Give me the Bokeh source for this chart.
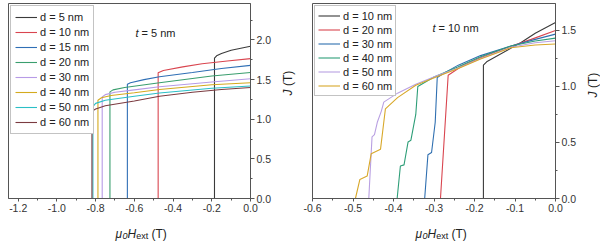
import math
from bokeh.plotting import figure
from bokeh.layouts import row, column
from bokeh.models import (FixedTicker, PrintfTickFormatter, Legend, LegendItem,
                          Label, Range1d)
from bokeh.embed import file_html
from bokeh.resources import INLINE

FONT = "Liberation Sans"

# ---------------- data: left panel (t = 5 nm) ----------------
left_labels = ["d = 5 nm", "d = 10 nm", "d = 15 nm", "d = 20 nm",
               "d = 30 nm", "d = 40 nm", "d = 50 nm", "d = 60 nm"]
left_colors = ["#3a3a3a", "#d9454f", "#2f6fb5", "#3a9e6e",
               "#b79be6", "#d4aa1e", "#2bbfc6", "#7b3b40"]

L_d5_H = [-0.186, -0.186, -0.175, -0.15, -0.10, -0.05, 0.0]
L_d5_J = [0.0, 1.77, 1.80, 1.83, 1.87, 1.895, 1.92]
L_d10_H = [-0.477, -0.477, -0.45, -0.35, -0.25, -0.12, 0.0]
L_d10_J = [0.0, 1.585, 1.615, 1.66, 1.70, 1.735, 1.765]
L_d15_H = [-0.636, -0.636, -0.62, -0.55, -0.47, -0.30, -0.15, 0.0]
L_d15_J = [0.0, 1.44, 1.46, 1.50, 1.535, 1.59, 1.64, 1.68]
L_d20_H = [-0.726, -0.726, -0.71, -0.65, -0.47, -0.20, 0.0]
L_d20_J = [0.0, 1.345, 1.37, 1.40, 1.46, 1.545, 1.59]
L_d30_H = [-0.766, -0.766, -0.75, -0.70, -0.60, -0.47, -0.20, 0.0]
L_d30_J = [0.0, 1.28, 1.31, 1.34, 1.37, 1.41, 1.47, 1.51]
L_d40_H = [-0.788, -0.788, -0.77, -0.72, -0.60, -0.47, -0.20, 0.0]
L_d40_J = [0.0, 1.24, 1.27, 1.30, 1.335, 1.375, 1.435, 1.46]
L_d50_H = [-0.814, -0.814, -0.80, -0.75, -0.60, -0.47, -0.20, 0.0]
L_d50_J = [0.0, 1.16, 1.20, 1.24, 1.29, 1.33, 1.39, 1.42]
L_d60_H = [-0.819, -0.819, -0.80, -0.75, -0.60, -0.47, -0.30, -0.15, 0.0]
L_d60_J = [0.0, 1.10, 1.13, 1.17, 1.23, 1.29, 1.34, 1.375, 1.40]

left_H = [L_d5_H, L_d10_H, L_d15_H, L_d20_H, L_d30_H, L_d40_H, L_d50_H, L_d60_H]
left_J = [L_d5_J, L_d10_J, L_d15_J, L_d20_J, L_d30_J, L_d40_J, L_d50_J, L_d60_J]

left_xticks = [-1.2, -1.0, -0.8, -0.6, -0.4, -0.2, 0.0]
left_xminor = [-1.1, -0.9, -0.7, -0.5, -0.3, -0.1]
left_yticks = [0.0, 0.5, 1.0, 1.5, 2.0]
left_yminor = [0.25, 0.75, 1.25, 1.75, 2.25]

# ---------------- data: right panel (t = 10 nm) ----------------
right_labels = ["d = 10 nm", "d = 20 nm", "d = 30 nm",
                "d = 40 nm", "d = 50 nm", "d = 60 nm"]
right_colors = ["#3a3a3a", "#d9454f", "#2f6fb0", "#2e9e78", "#b9a0e2", "#d8a82a"]

R_d10_H = [-0.178, -0.178, -0.17, -0.086, -0.05, 0.0]
R_d10_J = [0.0, 1.19, 1.22, 1.39, 1.475, 1.57]
R_d20_H = [-0.284, -0.265, -0.23, -0.185, -0.12, -0.06, 0.0]
R_d20_J = [0.0, 1.10, 1.185, 1.255, 1.345, 1.42, 1.50]
R_d30_H = [-0.323, -0.315, -0.306, -0.297, -0.292, -0.27, -0.24, -0.185, -0.11, -0.05, 0.0]
R_d30_J = [0.0, 0.39, 0.41, 0.68, 1.08, 1.13, 1.19, 1.275, 1.36, 1.42, 1.467]
R_d40_H = [-0.391, -0.383, -0.374, -0.364, -0.357, -0.345, -0.340, -0.30, -0.24,
           -0.185, -0.11, -0.05, 0.0]
R_d40_J = [0.0, 0.29, 0.30, 0.505, 0.52, 0.75, 1.00, 1.085, 1.175,
           1.265, 1.36, 1.405, 1.431]
R_d50_H = [-0.461, -0.453, -0.447, -0.440, -0.43, -0.424, -0.39, -0.345, -0.29,
           -0.24, -0.185, -0.11, -0.05, 0.0]
R_d50_J = [0.0, 0.55, 0.57, 0.68, 0.78, 0.86, 0.94, 1.02, 1.10,
           1.165, 1.25, 1.35, 1.39, 1.408]
R_d60_H = [-0.494, -0.483, -0.465, -0.455, -0.432, -0.424, -0.42, -0.39, -0.345,
           -0.29, -0.24, -0.185, -0.11, -0.05, 0.0]
R_d60_J = [0.0, 0.17, 0.20, 0.40, 0.44, 0.68, 0.80, 0.90, 1.01,
           1.09, 1.16, 1.245, 1.345, 1.37, 1.378]

right_H = [R_d10_H, R_d20_H, R_d30_H, R_d40_H, R_d50_H, R_d60_H]
right_J = [R_d10_J, R_d20_J, R_d30_J, R_d40_J, R_d50_J, R_d60_J]

right_xticks = [-0.6, -0.5, -0.4, -0.3, -0.2, -0.1, 0.0]
right_xminor = [-0.55, -0.45, -0.35, -0.25, -0.15, -0.05]
right_yticks = [0.0, 0.5, 1.0, 1.5]
right_yminor = [0.25, 0.75, 1.25]

MAIN_H = 218   # height of the two chart figures
LAB_H = 24     # height of the strip holding the x-axis titles


def add_text(p, x, y, text, size="12px", style="normal", angle=0.0,
             baseline="alphabetic"):
    p.add_layout(Label(x=x, y=y, x_units="screen", y_units="screen", text=text,
                       text_font=FONT, text_font_size=size, text_font_style=style,
                       text_color="#222222", angle=angle, text_align="left",
                       text_baseline=baseline))


def make_panel(width, mbl, mbr, xr, yr, xt, xm, yt, ym, Hs, Js, labels, colors,
               row_h, pad):
    p = figure(width=width, height=MAIN_H, x_range=Range1d(*xr), y_range=Range1d(*yr),
               output_backend="svg", toolbar_location=None, y_axis_location="right",
               min_border_left=mbl, min_border_right=mbr, min_border_top=3,
               min_border_bottom=20)
    p.grid.visible = False
    p.outline_line_color = "#555555"
    p.background_fill_color = "white"
    p.border_fill_color = "white"

    p.xaxis.ticker = FixedTicker(ticks=xt, minor_ticks=xm)
    p.yaxis.ticker = FixedTicker(ticks=yt, minor_ticks=ym)
    for ax in p.axis:
        ax.formatter = PrintfTickFormatter(format="%.1f")
        ax.axis_line_color = "#555555"
        ax.major_tick_line_color = "#555555"
        ax.minor_tick_line_color = "#555555"
        ax.major_label_text_font = FONT
        ax.major_label_text_font_size = "10.5px"
        ax.major_label_text_color = "#333333"
        ax.major_tick_in = 0
        ax.minor_tick_in = 0
        ax.minor_tick_out = 2
        ax.major_label_standoff = 2
    p.xaxis.major_tick_out = 3
    p.yaxis.major_tick_out = 4

    items = []
    for H, J, lab, col in zip(Hs, Js, labels, colors):
        r = p.line(H, J, line_color=col, line_width=1.1)
        items.append(LegendItem(label=lab, renderers=[r]))
    leg = Legend(items=items, location="top_left", margin=2, padding=pad,
                 spacing=1, label_height=row_h, glyph_height=row_h, glyph_width=22,
                 label_standoff=3, label_text_font=FONT, label_text_font_size="11px",
                 label_text_color="#222222", border_line_color="#888888",
                 border_line_width=1, background_fill_alpha=1.0)
    p.add_layout(leg)
    return p


def blank(width, height):
    b = figure(width=width, height=height, x_range=Range1d(0, 1), y_range=Range1d(0, 1),
               output_backend="svg", toolbar_location=None, x_axis_type=None,
               y_axis_type=None, min_border=0, min_border_left=0, min_border_right=0,
               min_border_top=0, min_border_bottom=0)
    b.grid.visible = False
    b.outline_line_color = None
    b.background_fill_color = "white"
    b.border_fill_color = "white"
    return b


# left chart: frame 242 px wide (x 8..250)
p1 = make_panel(278, 8, 28, (-1.25, 0.0), (0.0, 2.46), left_xticks, left_xminor,
                left_yticks, left_yminor, left_H, left_J, left_labels, left_colors,
                14, 4)
# right chart: frame 243 px wide (x 312..555)
p2 = make_panel(288, 16, 29, (-0.6, 0.0), (0.0, 1.74), right_xticks, right_xminor,
                right_yticks, right_yminor, right_H, right_J, right_labels,
                right_colors, 13, 3)

# in-plot annotations
add_text(p1, 127, 166, "t", size="11px", style="italic")
add_text(p1, 133, 166, "= 5 nm", size="11px")
add_text(p2, 120, 171, "t", size="11px", style="italic")
add_text(p2, 126, 171, "= 10 nm", size="11px")

# strips for the rotated y-axis titles
jy1 = blank(18, MAIN_H)
jy2 = blank(16, MAIN_H)


def y_label(p, x, y0):
    add_text(p, x, y0, "J", style="italic", angle=math.pi / 2, baseline="middle")
    add_text(p, x, y0 + 9.5, "(T)", angle=math.pi / 2, baseline="middle")


y_label(jy1, 9, 103)
y_label(jy2, 8, 101)

# strip for the x-axis titles
xl = blank(600, LAB_H)


def x_label(p, x0):
    add_text(p, x0, 9, "μ", style="italic")
    add_text(p, x0 + 7.0, 6.5, "0", size="9px", style="italic")
    add_text(p, x0 + 12.0, 9, "H", style="italic")
    add_text(p, x0 + 20.7, 6.5, "ext", size="9px")
    add_text(p, x0 + 36.0, 9, "(T)")


x_label(xl, 115)
x_label(xl, 415)

layout = column(row(p1, jy1, p2, jy2), xl)
open("out.html", "w").write(file_html(layout, INLINE))
